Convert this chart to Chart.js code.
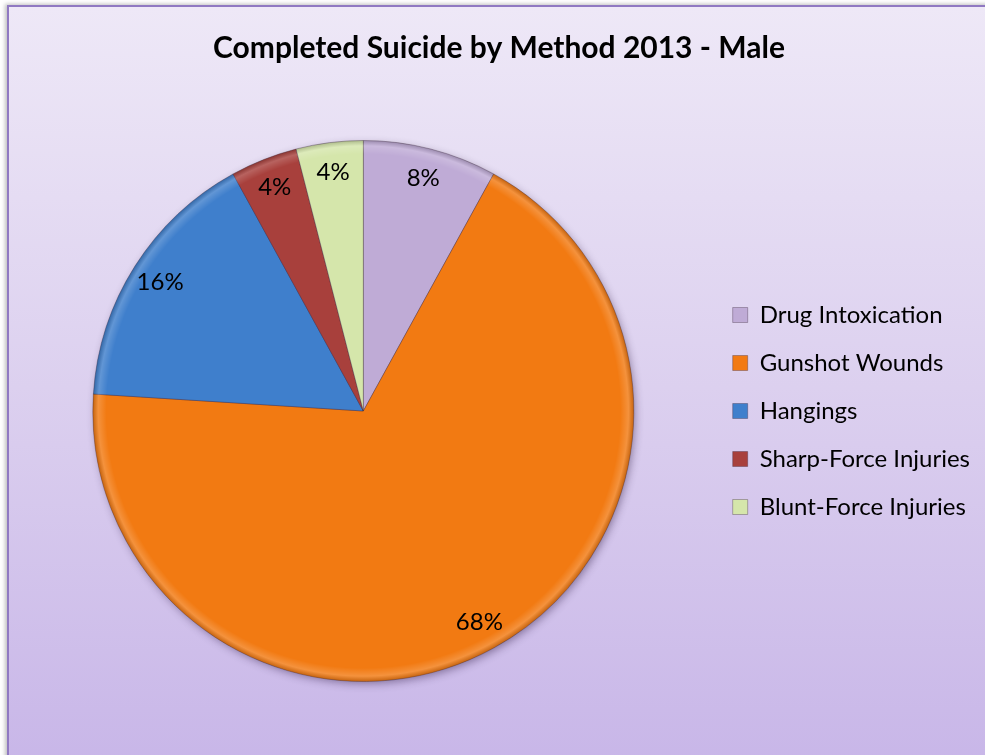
<!DOCTYPE html>
<html>
<head>
<meta charset="utf-8">
<title>Completed Suicide by Method 2013 - Male</title>
<script src="https://cdn.jsdelivr.net/npm/chart.js@4.4.1/dist/chart.umd.min.js"></script>
<style>
  html, body { margin: 0; padding: 0; background: #ffffff; overflow: hidden; }
  #frame {
    position: absolute; left: 7px; top: 5px; width: 990px; height: 760px;
    border: 2px solid #9079c2;
    background: linear-gradient(to bottom, #eee8f7 0%, #dcd0ef 50%, #c8b6e8 100%);
    box-shadow: -2px -1px 4px rgba(0, 0, 0, 0.25);
  }
  #chart { position: absolute; left: 0; top: 0; }
</style>
</head>
<body>
<div id="frame"></div>
<canvas id="chart" width="985" height="755"></canvas>
<script>
const methods = ["Drug Intoxication", "Gunshot Wounds", "Hangings", "Sharp-Force Injuries", "Blunt-Force Injuries"];
const percentages = [8, 68, 16, 4, 4];
const sliceColors = ["#bfabd6", "#f27a12", "#3f7fcc", "#a8403c", "#d5e6ab"];

const FONT = "Lato, 'Open Sans', sans-serif";

// soft shadow under the whole pie, drawn from the arc geometry
const pieShadow = {
  id: "pieShadow",
  beforeDatasetsDraw(chart) {
    const arc = chart.getDatasetMeta(0).data[0];
    if (!arc) return;
    const { ctx } = chart;
    ctx.save();
    ctx.shadowColor = "rgba(40, 20, 60, 0.45)";
    ctx.shadowBlur = 8;
    ctx.shadowOffsetX = 2;
    ctx.shadowOffsetY = 3;
    ctx.fillStyle = "#8a6a9a";
    ctx.beginPath();
    ctx.arc(arc.x, arc.y, arc.outerRadius - 1, 0, Math.PI * 2);
    ctx.fill();
    ctx.restore();
  },
  afterDatasetsDraw(chart) {
    // light bevel along the rim
    const arc = chart.getDatasetMeta(0).data[0];
    if (!arc) return;
    const { ctx } = chart;
    const r = arc.outerRadius;
    const g = ctx.createRadialGradient(arc.x, arc.y, r * 0.95, arc.x, arc.y, r);
    g.addColorStop(0, "rgba(255,255,255,0)");
    g.addColorStop(0.6, "rgba(255,255,255,0.18)");
    g.addColorStop(1, "rgba(0,0,0,0.18)");
    ctx.save();
    ctx.fillStyle = g;
    ctx.beginPath();
    ctx.arc(arc.x, arc.y, r, 0, Math.PI * 2);
    ctx.arc(arc.x, arc.y, r * 0.95, 0, Math.PI * 2, true);
    ctx.fill();
    ctx.restore();
  },
};

// percentage text inside each slice
const sliceLabels = {
  id: "sliceLabels",
  afterDatasetsDraw(chart) {
    const { ctx } = chart;
    const meta = chart.getDatasetMeta(0);
    ctx.save();
    ctx.font = "24px " + FONT;
    ctx.fillStyle = "#000000";
    ctx.textAlign = "center";
    ctx.textBaseline = "middle";
    meta.data.forEach((arc, i) => {
      const mid = (arc.startAngle + arc.endAngle) / 2;
      const r = arc.outerRadius * 0.89;
      ctx.fillText(percentages[i] + "%", arc.x + Math.cos(mid) * r, arc.y + Math.sin(mid) * r);
    });
    ctx.restore();
  },
};

new Chart(document.getElementById("chart"), {
  type: "pie",
  data: {
    labels: methods,
    datasets: [
      {
        data: percentages,
        backgroundColor: sliceColors,
        borderColor: "rgba(60, 40, 60, 0.35)",
        borderWidth: 1,
      },
    ],
  },
  options: {
    responsive: false,
    animation: false,
    layout: { padding: { left: 18, right: 5, top: 0, bottom: 73 } },
    plugins: {
      title: {
        display: true,
        text: "Completed Suicide by Method 2013 - Male",
        color: "#000000",
        font: { family: FONT, size: 30, weight: "bold", lineHeight: 1.2 },
        padding: { top: 30, bottom: 74 },
      },
      legend: {
        position: "right",
        fullSize: false,
        labels: {
          color: "#000000",
          font: { family: FONT, size: 24 },
          boxWidth: 15,
          boxHeight: 15,
          padding: 24,
        },
      },
      tooltip: { enabled: false },
    },
  },
  plugins: [pieShadow, sliceLabels],
});
</script>
</body>
</html>
